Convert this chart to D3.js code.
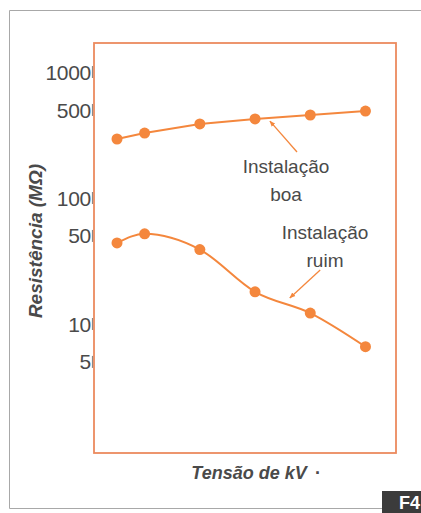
<!DOCTYPE html>
<html><head><meta charset="utf-8">
<script src="https://cdn.jsdelivr.net/npm/d3@7"></script>
<style>html,body{margin:0;padding:0;background:#fff;}svg{display:block;}</style>
</head><body>
<script>
// Data
const voltages = [0.5, 1, 2, 3, 4, 5];
const boaValues = [294, 328, 387, 424, 456, 490];
const ruimValues = [44, 52, 39, 18, 12.2, 6.6];
const yTicks = [5, 10, 50, 100, 500, 1000];
const yTickLabels = ["5", "10", "50", "100", "500", "1000"];

const W = 421, H = 513;
const box = {x0: 94, x1: 396, y0: 43, y1: 453};
const svg = d3.select("body").append("svg").attr("width", W).attr("height", H);

const x = d3.scaleLinear().domain([0.083, 5.553]).range([box.x0, box.x1]);
const y = d3.scaleLog().domain([0.946, 1700]).range([box.y1, box.y0]);

const textColor = "#4a4a4a";
const orange = "#f4873d";
const font = "Liberation Sans, Arial, sans-serif";

// outer frame
svg.append("path").attr("d", `M${W} 10.5 H9.5 V508.5 H${W}`)
  .attr("fill", "none").attr("stroke", "#a8a8a8").attr("stroke-width", 1);

// y tick labels
svg.append("g")
  .selectAll("text").data(yTicks).join("text")
  .attr("x", box.x0 - 3).attr("y", d => y(d))
  .attr("dy", "0.36em").attr("text-anchor", "end")
  .attr("font-family", font)
  .attr("font-size", 21).attr("fill", textColor)
  .attr("letter-spacing", -0.3)
  .text((d, i) => yTickLabels[i]);

// small tick marks next to labels
svg.append("g").selectAll("line").data(yTicks).join("line")
  .attr("x1", box.x0 - 1.5).attr("x2", box.x0 - 1.5)
  .attr("y1", d => y(d) - 6).attr("y2", d => y(d) + 6)
  .attr("stroke", "#8a8a8a").attr("stroke-width", 1.2);

// plot box
svg.append("rect").attr("x", box.x0).attr("y", box.y0)
  .attr("width", box.x1 - box.x0).attr("height", box.y1 - box.y0)
  .attr("fill", "none").attr("stroke", "#ec8a5e").attr("stroke-width", 1.8);

// lines
const boaData = voltages.map((v, i) => [v, boaValues[i]]);
const ruimData = voltages.map((v, i) => [v, ruimValues[i]]);

svg.append("path").datum(boaData)
  .attr("d", d3.line().x(d => x(d[0])).y(d => y(d[1])).curve(d3.curveLinear))
  .attr("fill", "none").attr("stroke", orange).attr("stroke-width", 2);
svg.append("path").datum(ruimData)
  .attr("d", d3.line().x(d => x(d[0])).y(d => y(d[1])).curve(d3.curveMonotoneX))
  .attr("fill", "none").attr("stroke", orange).attr("stroke-width", 2);

svg.append("g").selectAll("circle").data(boaData.concat(ruimData)).join("circle")
  .attr("cx", d => x(d[0])).attr("cy", d => y(d[1])).attr("r", 5.5)
  .attr("fill", orange);

// annotations
const defs = svg.append("defs");
defs.append("marker").attr("id", "ah").attr("viewBox", "0 0 10 10")
  .attr("refX", 9).attr("refY", 5).attr("markerWidth", 6).attr("markerHeight", 6)
  .attr("orient", "auto").attr("markerUnits", "userSpaceOnUse")
  .append("path").attr("d", "M0,1 L10,5 L0,9 Z").attr("fill", orange);

const arrows = [
  {from: [3.76, 232], to: [3.27, 408]},
  {from: [4.18, 26.8], to: [3.63, 16.1]}
];
svg.append("g").selectAll("line").data(arrows).join("line")
  .attr("x1", d => x(d.from[0])).attr("y1", d => y(d.from[1]))
  .attr("x2", d => x(d.to[0])).attr("y2", d => y(d.to[1]))
  .attr("stroke", orange).attr("stroke-width", 1.3).attr("marker-end", "url(#ah)");

const labels = [
  {t: "Instalação", x: 286, y: 173},
  {t: "boa", x: 286, y: 201},
  {t: "Instalação", x: 325, y: 239},
  {t: "ruim", x: 325, y: 267}
];
svg.append("g").selectAll("text").data(labels).join("text")
  .attr("x", d => d.x).attr("y", d => d.y).attr("text-anchor", "middle")
  .attr("font-family", font)
  .attr("font-size", 19).attr("fill", textColor).text(d => d.t);

// axis titles
svg.append("text").attr("transform", "translate(42,241) rotate(-90)")
  .attr("text-anchor", "middle")
  .attr("font-family", font)
  .attr("font-size", 19).attr("font-weight", "bold").attr("font-style", "italic")
  .attr("fill", textColor).text("Resistência (MΩ)");

svg.append("text").attr("x", 249).attr("y", 479).attr("text-anchor", "middle")
  .attr("font-family", font)
  .attr("font-size", 18).attr("font-weight", "bold").attr("font-style", "italic")
  .attr("fill", textColor).text("Tensão de kV");
svg.append("text").attr("x", 318).attr("y", 479).attr("text-anchor", "middle")
  .attr("font-family", font)
  .attr("font-size", 18).attr("font-weight", "bold")
  .attr("fill", textColor).text("·");

// F4 badge
svg.append("rect").attr("x", 382).attr("y", 491).attr("width", 40).attr("height", 22).attr("fill", "#3b3b3b");
svg.append("text").attr("x", 399).attr("y", 509)
  .attr("font-family", font)
  .attr("font-size", 18).attr("font-weight", "bold").attr("fill", "#fff").text("F4");
</script>
</body></html>
